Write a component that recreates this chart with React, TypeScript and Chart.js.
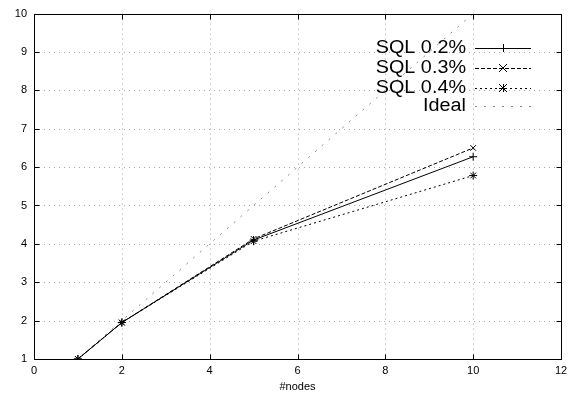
import React, { useEffect, useRef } from "react";
import { Chart, registerables } from "chart.js";
Chart.register(...registerables);

const nodes = [1, 2, 5, 10];
const sql02 = [1, 1.95, 4.1, 6.27];
const sql03 = [1, 1.95, 4.13, 6.5];
const sql04 = [1, 1.95, 4.07, 5.78];
const idealX = [1, 10];
const idealY = [1, 10];
const seriesNames = ["SQL 0.2%", "SQL 0.3%", "SQL 0.4%", "Ideal"];
const xTicks = [0, 2, 4, 6, 8, 10, 12];
const yTicks = [1, 2, 3, 4, 5, 6, 7, 8, 9, 10];
const xTitle = "#nodes";

const FONT = "'Liberation Sans', Arial, Helvetica, sans-serif";

const pts = (xs: number[], ys: number[]) => xs.map((x, i) => ({ x, y: ys[i] }));

export default function App() {
  const ref = useRef<HTMLCanvasElement | null>(null);
  useEffect(() => {
    document.body.style.margin = "0";
    const canvas = ref.current!;
    const styles = [
      { dash: [], point: "cross", color: "#000" },
      { dash: [4, 2], point: "crossRot", color: "#000" },
      { dash: [2, 3], point: "star", color: "#000" },
      { dash: [2, 7], point: false, color: "#888" },
    ];
    const gnuplot = {
      id: "gnuplot",
      beforeDatasetsDraw(chart: any) {
        const { ctx, chartArea: a, scales } = chart;
        ctx.save();
        ctx.strokeStyle = "#a8a8a8";
        ctx.lineWidth = 1;
        ctx.setLineDash([1, 4]);
        xTicks.slice(1, -1).forEach((v) => {
          const x = Math.round(scales.x.getPixelForValue(v)) + 0.5;
          ctx.beginPath();
          ctx.moveTo(x, a.top);
          ctx.lineTo(x, a.bottom);
          ctx.stroke();
        });
        yTicks.slice(1, -1).forEach((v) => {
          const y = Math.round(scales.y.getPixelForValue(v)) + 0.5;
          ctx.beginPath();
          ctx.moveTo(a.left, y);
          ctx.lineTo(a.right, y);
          ctx.stroke();
        });
        ctx.restore();
      },
      afterDatasetsDraw(chart: any) {
        const { ctx, chartArea: a, scales } = chart;
        ctx.save();
        ctx.strokeStyle = "#000";
        ctx.lineWidth = 1;
        ctx.setLineDash([]);
        const L = Math.round(a.left) + 0.5, R = Math.round(a.right) + 0.5;
        const T = Math.round(a.top) + 0.5, B = Math.round(a.bottom) + 0.5;
        ctx.strokeRect(L, T, R - L, B - T);
        ctx.beginPath();
        xTicks.forEach((v) => {
          const x = Math.round(scales.x.getPixelForValue(v)) + 0.5;
          ctx.moveTo(x, B); ctx.lineTo(x, B - 5);
          ctx.moveTo(x, T); ctx.lineTo(x, T + 5);
        });
        yTicks.forEach((v) => {
          const y = Math.round(scales.y.getPixelForValue(v)) + 0.5;
          ctx.moveTo(L, y); ctx.lineTo(L + 5, y);
          ctx.moveTo(R, y); ctx.lineTo(R - 5, y);
        });
        ctx.stroke();
        // axis title
        ctx.fillStyle = "#000";
        ctx.font = `11px ${FONT}`;
        ctx.textAlign = "center";
        ctx.textBaseline = "middle";
        ctx.fillText(xTitle, (a.left + a.right) / 2, 387);
        // legend
        const textRight = 466, lx0 = 475, lx1 = 531;
        const rows = [48, 68, 88, 106];
        ctx.font = `18px ${FONT}`;
        ctx.textAlign = "right";
        ctx.textBaseline = "middle";
        seriesNames.forEach((name, i) => {
          const y = rows[i];
          ctx.save();
          ctx.translate(textRight, y);
          ctx.scale(1.1, 1);
          ctx.fillText(name, 0, 0);
          ctx.restore();
          const s = styles[i];
          ctx.strokeStyle = s.color;
          ctx.setLineDash(s.dash);
          ctx.beginPath();
          ctx.moveTo(lx0, y + 0.5);
          ctx.lineTo(lx1, y + 0.5);
          ctx.stroke();
          ctx.setLineDash([]);
          ctx.strokeStyle = "#000";
          const cx = (lx0 + lx1) / 2, r = 4;
          ctx.beginPath();
          if (s.point === "cross" || s.point === "star") {
            ctx.moveTo(cx - r, y + 0.5); ctx.lineTo(cx + r, y + 0.5);
            ctx.moveTo(cx + 0.5, y - r); ctx.lineTo(cx + 0.5, y + r);
          }
          if (s.point === "crossRot" || s.point === "star") {
            ctx.moveTo(cx - r, y - r); ctx.lineTo(cx + r, y + r);
            ctx.moveTo(cx - r, y + r); ctx.lineTo(cx + r, y - r);
          }
          ctx.stroke();
        });
        ctx.restore();
      },
    };
    const mk = (label: string, data: any[], i: number) => ({
      label,
      data,
      borderColor: styles[i].color,
      backgroundColor: styles[i].color,
      borderWidth: 1,
      borderDash: styles[i].dash,
      pointStyle: styles[i].point,
      pointRadius: styles[i].point ? 4 : 0,
      pointBorderColor: "#000",
      pointBorderWidth: 1,
      showLine: true,
      tension: 0,
    });
    const chart = new Chart(canvas, {
      type: "scatter",
      data: {
        datasets: [
          mk(seriesNames[0], pts(nodes, sql02), 0),
          mk(seriesNames[1], pts(nodes, sql03), 1),
          mk(seriesNames[2], pts(nodes, sql04), 2),
          mk(seriesNames[3], pts(idealX, idealY), 3),
        ],
      },
      options: {
        animation: false,
        responsive: false,
        devicePixelRatio: 1,
        layout: { padding: { top: 11, right: 15, left: 0, bottom: 0 } },
        plugins: { legend: { display: false }, tooltip: { enabled: false } },
        scales: {
          x: {
            type: "linear",
            min: 0,
            max: 12,
            afterBuildTicks: (s: any) => { s.ticks = xTicks.map((v) => ({ value: v })); },
            afterFit: (s: any) => { s.height = 35; },
            grid: { display: false, drawTicks: false },
            border: { display: false },
            ticks: { color: "#000", font: { family: FONT, size: 11 }, padding: 5, maxRotation: 0, autoSkip: false },
          },
          y: {
            type: "linear",
            min: 1,
            max: 10,
            afterBuildTicks: (s: any) => { s.ticks = yTicks.map((v) => ({ value: v })); },
            afterFit: (s: any) => { s.width = 34; },
            grid: { display: false, drawTicks: false },
            border: { display: false },
            ticks: { color: "#000", font: { family: FONT, size: 11 }, padding: 7, autoSkip: false },
          },
        },
      },
      plugins: [gnuplot],
    } as any);
    return () => chart.destroy();
  }, []);
  return (
    <div style={{ width: 576, height: 394 }}>
      <canvas ref={ref} width={576} height={394} style={{ display: "block" }} />
    </div>
  );
}
